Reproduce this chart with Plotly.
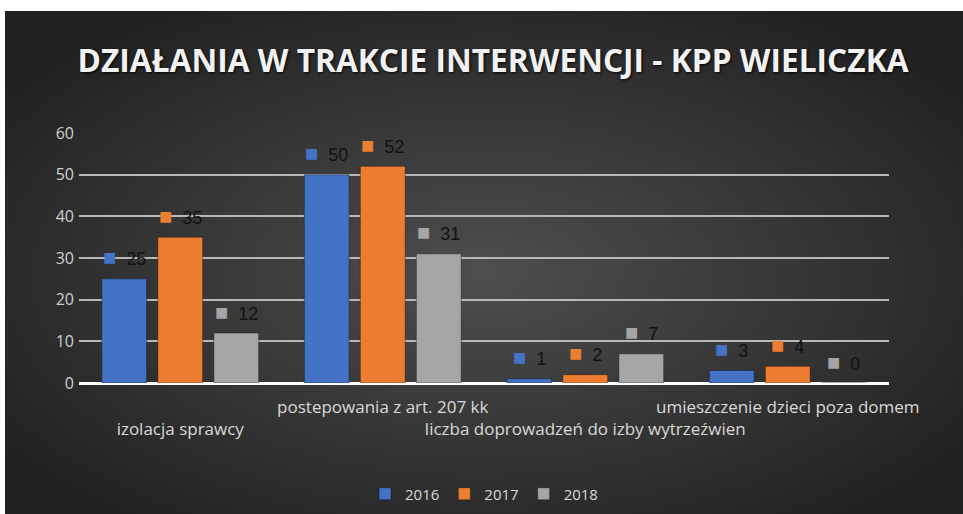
import base64
import plotly.graph_objects as go

categories = ["izolacja sprawcy", "postepowania z art. 207 kk",
              "liczba doprowadzeń do izby wytrzeźwien", "umieszczenie dzieci poza domem"]
years = ["2016", "2017", "2018"]
values_2016 = [25, 50, 1, 3]
values_2017 = [35, 52, 2, 4]
values_2018 = [12, 31, 7, 0]
y_ticks = [0, 10, 20, 30, 40, 50, 60]

series = [values_2016, values_2017, values_2018]
colors = ["#4472C4", "#ED7D31", "#A5A5A5"]

W, H = 963, 514
ML, MR, MT, MB = 79, 74, 133, 131
PW, PH = W - ML - MR, H - MT - MB
BARGAP = 0.17

fig = go.Figure()
for yr, vals, col in zip(years, series, colors):
    fig.add_trace(go.Bar(
        x=list(range(len(categories))), y=vals, name=yr,
        marker=dict(color=col, line=dict(color="rgba(0,0,0,0.35)", width=1)),
    ))

# data labels: colored square + number, centered over each bar
slot = (1 - BARGAP) / len(series)
annotations = []
for k, (vals, col) in enumerate(zip(series, colors)):
    for i, v in enumerate(vals):
        annotations.append(dict(
            x=i + (k - (len(series) - 1) / 2) * slot, y=v, xref="x", yref="y",
            text=f'<span style="color:{col};font-size:22px">■</span>&nbsp;&nbsp;{v}',
            showarrow=False, yanchor="middle", yshift=21,
            font=dict(family="Liberation Sans, Arial", size=18, color="#111111"),
        ))

ticktext = [("<br>" + c) if i % 2 == 0 else c for i, c in enumerate(categories)]

# radial gradient background as an svg image
svg = ("<svg xmlns='http://www.w3.org/2000/svg' width='958' height='503' preserveAspectRatio='none' viewBox='0 0 958 503'>"
       "<defs><radialGradient id='g' cx='50%' cy='52%' r='62%'>"
       "<stop offset='0' stop-color='#4e4e4e'/><stop offset='1' stop-color='#212121'/>"
       "</radialGradient></defs><rect width='958' height='503' fill='url(#g)'/></svg>")
src = "data:image/svg+xml;base64," + base64.b64encode(svg.encode()).decode()
bx0, by0, bx1, by1 = 5, 11, 963, 514
images = [dict(source=src, xref="paper", yref="paper",
               x=(bx0 - ML) / PW, y=(H - MB - by0) / PH,
               sizex=(bx1 - bx0) / PW, sizey=(by1 - by0) / PH,
               xanchor="left", yanchor="top", sizing="stretch", layer="below")]

fig.update_layout(
    width=W, height=H,
    margin=dict(l=ML, r=MR, t=MT, b=MB, pad=0, autoexpand=False),
    paper_bgcolor="white", plot_bgcolor="rgba(0,0,0,0)",
    barmode="group", bargap=BARGAP, bargroupgap=0.2,
    images=images,
    annotations=annotations,
    title=dict(text="<b>DZIAŁANIA W TRAKCIE INTERWENCJI - KPP WIELICZKA</b>",
               x=0.512, xref="container", xanchor="center",
               y=1 - 61 / H, yref="container", yanchor="middle",
               font=dict(family="Open Sans", size=31.7, color="#f2f2f2",
                         shadow="1px 1px 3px rgba(0,0,0,0.9)")),
    xaxis=dict(tickvals=list(range(len(categories))), ticktext=ticktext,
               range=[-0.5, len(categories) - 0.5], showgrid=False, zeroline=False,
               tickangle=0, automargin=False, ticklabelstandoff=12,
               tickfont=dict(family="Open Sans", size=17, color="#d9d9d9"),
               ticks="", showline=False),
    yaxis=dict(range=[0, 60], tickvals=y_ticks, showgrid=True, automargin=False,
               gridcolor="#b8b8b8", gridwidth=2, zeroline=True,
               zerolinecolor="#ffffff", zerolinewidth=3, ticklabelstandoff=4,
               tickfont=dict(family="Open Sans", size=16, color="#d0d0d0"),
               ticks="", showline=False),
    legend=dict(orientation="h", x=0.5, xanchor="center", y=(H - MB - 494) / PH,
                yanchor="middle", itemwidth=30,
                font=dict(family="Open Sans", size=15, color="#d9d9d9"),
                bgcolor="rgba(0,0,0,0)"),
    showlegend=True,
)

fig.write_html("out.html", config={"displayModeBar": False},
               post_script="document.body.style.margin='0';")
